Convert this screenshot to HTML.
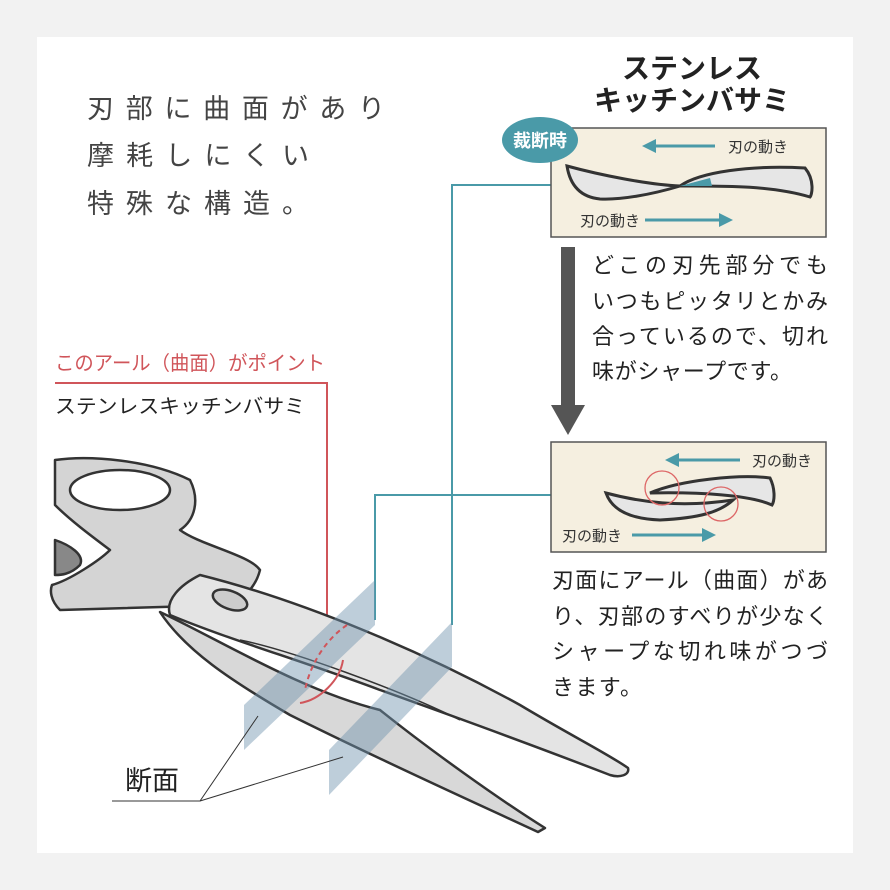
<!DOCTYPE html>
<html><head><meta charset="utf-8"><style>
body{margin:0;background:#f2f2f2;}
svg{display:block}
text{font-family:"Liberation Sans","Noto Sans CJK JP",sans-serif;}
</style></head><body>
<svg width="890" height="890" viewBox="0 0 890 890" xmlns="http://www.w3.org/2000/svg">
<rect x="0" y="0" width="890" height="890" fill="#f2f2f2"/>
<rect x="37" y="37" width="816" height="816" fill="#fff"/>

<!-- headline -->
<g font-size="27" fill="#444">
<text x="87" y="118" textLength="298" lengthAdjust="spacing">刃部に曲面があり</text>
<text x="87" y="165" textLength="222" lengthAdjust="spacing">摩耗しにくい</text>
<text x="87" y="213" textLength="222" lengthAdjust="spacing">特殊な構造。</text>
</g>

<!-- title -->
<g font-size="28" fill="#222" font-weight="bold" text-anchor="middle">
<text x="692" y="78">ステンレス</text>
<text x="692" y="110">キッチンバサミ</text>
</g>

<!-- connectors -->
<polyline points="551,185 452,185 452,625" fill="none" stroke="#4a9aa8" stroke-width="2"/>
<polyline points="551,495 375,495 375,620" fill="none" stroke="#4a9aa8" stroke-width="2"/>
<polyline points="55,383 327,383 327,632" fill="none" stroke="#d0555a" stroke-width="2"/>
<text x="55" y="370" font-size="20" fill="#d0555a" textLength="270" lengthAdjust="spacingAndGlyphs">このアール（曲面）がポイント</text>
<text x="55" y="413" font-size="20" fill="#222" textLength="250" lengthAdjust="spacingAndGlyphs">ステンレスキッチンバサミ</text>

<!-- top box -->
<rect x="551" y="128" width="275" height="109" fill="#f5efe0" stroke="#555" stroke-width="1.5"/>
<ellipse cx="540" cy="140" rx="38" ry="23" fill="#4a9aa8"/>
<text x="540" y="147" font-size="18" fill="#fff" font-weight="bold" text-anchor="middle">裁断時</text>
<line x1="715" y1="146" x2="650" y2="146" stroke="#4a9aa8" stroke-width="3"/>
<polygon points="642,146 656,139 656,153" fill="#4a9aa8"/>
<text x="728" y="152" font-size="15" fill="#333">刃の動き</text>
<text x="580" y="226" font-size="15" fill="#333">刃の動き</text>
<line x1="645" y1="220" x2="725" y2="220" stroke="#4a9aa8" stroke-width="3"/>
<polygon points="733,220 719,213 719,227" fill="#4a9aa8"/>
<path d="M567,166 C600,175 650,185 680,186 C650,195 620,200 600,199 C580,197 570,185 567,166Z" fill="#e6e6e6" stroke="#333" stroke-width="3"/>
<path d="M680,186 C700,172 750,165 805,168 C815,180 812,195 810,197 C770,185 720,186 680,186Z" fill="#e6e6e6" stroke="#333" stroke-width="3"/>
<path d="M668,186 L680,186 L710,178 L712,186Z" fill="#4a9aa8"/>

<!-- arrow down -->
<rect x="561" y="247" width="14" height="160" fill="#555"/>
<polygon points="551,405 585,405 568,435" fill="#555"/>

<g font-size="22" fill="#222" lengthAdjust="spacingAndGlyphs">
<text x="592" y="273" textLength="236">どこの刃先部分でも</text>
<text x="592" y="309" textLength="236">いつもピッタリとかみ</text>
<text x="592" y="344" textLength="236">合っているので、切れ</text>
<text x="592" y="379" textLength="200">味がシャープです。</text>
</g>

<!-- bottom box -->
<rect x="551" y="442" width="275" height="110" fill="#f5efe0" stroke="#555" stroke-width="1.5"/>
<line x1="740" y1="460" x2="673" y2="460" stroke="#4a9aa8" stroke-width="3"/>
<polygon points="665,460 679,453 679,467" fill="#4a9aa8"/>
<text x="752" y="466" font-size="15" fill="#333">刃の動き</text>
<text x="562" y="541" font-size="15" fill="#333">刃の動き</text>
<line x1="632" y1="535" x2="708" y2="535" stroke="#4a9aa8" stroke-width="3"/>
<polygon points="716,535 702,528 702,542" fill="#4a9aa8"/>
<path d="M606,493 C640,502 680,508 733,500 C720,512 700,518 660,520 C630,519 612,510 606,493Z" fill="#e6e6e6" stroke="#333" stroke-width="3"/>
<path d="M650,493 C680,480 740,474 770,478 C775,488 775,500 772,505 C750,495 700,492 650,493Z" fill="#e6e6e6" stroke="#333" stroke-width="3"/>
<circle cx="662" cy="488" r="17" fill="none" stroke="#d66" stroke-width="1.3"/>
<circle cx="721" cy="504" r="17" fill="none" stroke="#d66" stroke-width="1.3"/>

<g font-size="22" fill="#222" lengthAdjust="spacingAndGlyphs">
<text x="552" y="588" textLength="276">刃面にアール（曲面）があ</text>
<text x="552" y="624" textLength="276">り、刃部のすべりが少なく</text>
<text x="552" y="659" textLength="276">シャープな切れ味がつづ</text>
<text x="552" y="695" textLength="90">きます。</text>
</g>

<!-- scissors -->
<g stroke="#333" stroke-width="2.5" stroke-linejoin="round">
<path d="M160,612 C220,640 300,690 380,710 C430,750 500,800 545,828 L538,832 C480,805 380,760 290,715 C230,680 185,650 160,612Z" fill="#d8d8d8"/>
<path d="M55,460 C90,455 150,460 190,480 C200,500 195,520 180,530 C200,545 250,555 260,570 C255,590 240,600 230,605 L60,610 C50,600 50,590 52,585 C70,580 100,560 110,550 C90,535 70,520 55,505Z" fill="#d4d4d4"/>
<ellipse cx="120" cy="490" rx="50" ry="20" fill="#fff"/>
<path d="M55,540 C70,545 85,555 80,565 C70,575 60,575 55,575Z" fill="#888"/>
<path d="M200,575 C300,600 420,650 520,705 C570,735 610,755 628,768 C630,775 620,778 610,775 C540,748 450,715 380,690 C300,660 230,640 170,615 C165,600 180,585 200,575Z" fill="#e4e4e4"/>
<ellipse cx="230" cy="600" rx="18" ry="9" fill="#ccc" transform="rotate(20 230 600)"/>
<path d="M240,640 C290,650 400,690 460,720" fill="none" stroke-width="1.5"/>
</g>
<polygon points="244,705 375,580 375,625 244,750" fill="#6f92ac" opacity="0.45"/>
<polygon points="329,750 452,622 452,667 329,795" fill="#6f92ac" opacity="0.45"/>
<path d="M347,625 C325,640 310,665 305,690" fill="none" stroke="#d0555a" stroke-width="2" stroke-dasharray="5,4"/>
<path d="M343,660 C340,680 320,700 300,703" fill="none" stroke="#d0555a" stroke-width="2"/>

<text x="125" y="790" font-size="27" fill="#222">断面</text>
<polyline points="112,801 200,801 258,716" fill="none" stroke="#333" stroke-width="1"/>
<line x1="200" y1="801" x2="343" y2="757" stroke="#333" stroke-width="1"/>
</svg>
</body></html>
